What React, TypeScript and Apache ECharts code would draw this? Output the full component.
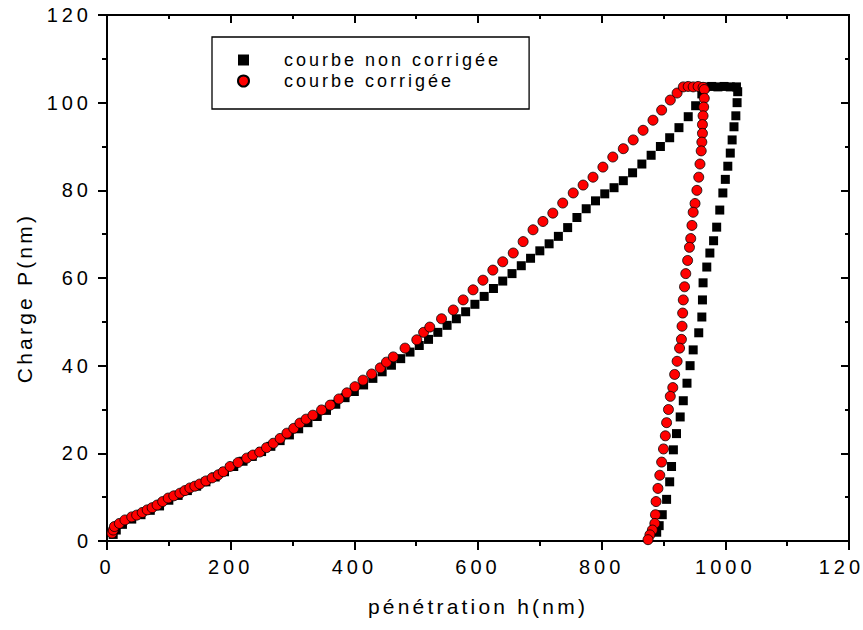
import React, { useEffect, useRef } from "react";
import * as echarts from "echarts";

// ---- Data (h in nm, P) ----
const seriesNames = ["courbe non corrigée", "courbe corrigée"];

const uncorrectedLoading: [number, number][] = [
  [10, 1.5], [15, 2.5], [25, 3.8], [40, 5.0], [55, 6.0], [70, 7.0], [85, 8.0], [100, 9.3],
  [115, 10.4], [130, 11.5], [145, 12.5], [160, 13.5], [175, 14.6], [190, 15.8], [205, 17.0],
  [220, 18.2], [235, 19.3], [250, 20.4], [265, 21.6], [280, 22.9], [295, 24.2], [310, 25.6],
  [325, 27.0], [340, 28.4], [355, 29.8], [370, 31.2], [385, 32.7], [400, 34.1], [415, 35.6],
  [430, 37.1], [445, 38.6], [460, 40.1], [475, 41.6], [490, 43.1], [505, 44.6], [520, 46.0],
  [535, 47.6], [550, 49.2], [565, 50.7], [580, 52.3], [595, 54.0], [610, 55.8], [625, 57.6],
  [640, 59.3], [655, 61.0], [670, 62.8], [685, 64.5], [700, 66.2], [715, 67.8], [730, 69.5],
  [745, 71.5], [760, 73.8], [775, 75.8], [790, 77.6], [805, 79.2], [820, 80.6], [835, 82.2],
  [850, 84.0], [865, 86.0], [880, 88.0], [895, 90.0], [910, 92.0], [925, 94.3], [940, 96.8],
  [952, 99.3], [962, 102.0], [968, 103.6], [978, 103.7], [988, 103.6], [998, 103.7],
  [1008, 103.6], [1018, 103.6],
];

const uncorrectedUnloading: [number, number][] = [
  [1020, 102.5], [1019, 100], [1017, 97], [1014, 94.5], [1011, 91.5], [1008, 88.5],
  [1004, 85.5], [1000, 82.5], [996, 79.4], [991, 75.5], [986, 71.6], [981, 68.5], [975, 65.7],
  [970, 62.5], [964, 58.9], [963, 55], [962, 51.1], [957, 47.5], [948, 43.6], [943, 40],
  [938, 36], [932, 32], [927, 28.3], [921, 24.5], [916, 20.8], [913, 17], [910, 13.5],
  [905, 9.5], [898, 6], [893, 3.5], [889, 2],
];

const correctedLoading: [number, number][] = [
  [8, 1.8], [10, 2.5], [12, 3.3], [20, 4.0], [29, 4.8], [40, 5.5], [48, 5.9], [57, 6.5],
  [65, 7.1], [73, 7.6], [81, 8.2], [90, 9.0], [99, 9.8], [108, 10.3], [118, 10.9], [126, 11.5],
  [134, 12.1], [142, 12.5], [150, 13.0], [160, 13.7], [170, 14.4], [180, 15.1], [188, 15.8],
  [199, 17.0], [212, 17.9], [226, 18.9], [236, 19.6], [247, 20.3], [258, 21.3], [269, 22.3],
  [280, 23.4], [291, 24.6], [302, 25.7], [312, 26.9], [322, 27.8], [333, 28.7], [347, 29.9],
  [361, 31.0], [375, 32.4], [388, 33.8], [401, 35.2], [414, 36.7], [428, 38.1], [442, 39.5],
  [452, 40.8], [463, 42.0], [482, 44.0], [501, 45.9], [512, 47.6], [522, 48.8], [541, 50.7],
  [560, 52.7], [576, 55.0], [592, 57.3], [608, 59.5], [624, 61.8], [640, 63.7], [657, 65.7],
  [673, 68.3], [689, 71.0], [705, 72.9], [721, 74.8], [737, 77.1], [754, 79.4], [770, 81.2],
  [786, 83.0], [802, 85.3], [818, 87.6], [835, 89.5], [851, 91.5], [867, 93.7], [883, 96.0],
  [897, 98.3], [911, 100.6], [922, 102.2], [932, 103.6], [940, 103.7], [948, 103.6],
  [956, 103.7], [964, 103.5],
];

const correctedUnloading: [number, number][] = [
  [966, 103], [966, 101], [965, 99], [964, 97], [963, 95], [963, 93], [962, 91], [961, 89],
  [959, 86], [957, 83], [954, 80], [951, 77], [948, 75], [946, 72], [944, 69], [942, 67],
  [939, 64], [936, 61], [934, 58], [932, 55], [931, 52], [930, 49], [929, 46], [926, 44],
  [922, 41], [918, 38], [915, 35], [911, 33], [908, 30], [905, 27], [903, 24], [900, 21],
  [897, 18], [894, 15], [891, 12], [888, 9], [887, 6], [886, 4], [882, 2.5], [878, 1.4],
  [875, 0.3],
];

const xMin = 0, xMax = 1200, xStep = 200;
const yMin = 0, yMax = 120, yStep = 20;
const xTitle = "pénétration h(nm)";
const yTitle = "Charge P(nm)";

const FONT = "'Liberation Sans', Arial, sans-serif";

export default function App() {
  const ref = useRef<HTMLDivElement>(null);

  useEffect(() => {
    document.body.style.margin = "0";
    if (!ref.current) return;
    const chart = echarts.init(ref.current, undefined, { renderer: "svg" });

    const mkLine = () => ({ show: true, onZero: false, lineStyle: { color: "#000", width: 2 } });
    const tickStyle = { color: "#000", width: 2 };
    const fmt = (v: number) => String(v);

    const option: any = {
      animation: false,
      backgroundColor: "#fff",
      grid: {
        left: 107, right: 14, top: 15, bottom: 89,
        containLabel: false, outerBoundsMode: "none",
        show: true, borderColor: "#000", borderWidth: 2, backgroundColor: "transparent",
      },
      legend: {
        left: 212, top: 37,
        orient: "vertical",
        backgroundColor: "#fff",
        borderColor: "#000", borderWidth: 1.3,
        padding: [14, 85, 19, 25],
        itemWidth: 11, itemHeight: 11, itemGap: 3,
        textStyle: { fontFamily: FONT, fontSize: 18, color: "#000", padding: [0, 0, 0, 30] },
        data: [
          { name: seriesNames[0], icon: "rect" },
          { name: seriesNames[1], icon: "circle" },
        ],
      },
      xAxis: [
        {
          type: "value", position: "bottom", min: xMin, max: xMax, interval: xStep,
          axisLine: mkLine(), splitLine: { show: false },
          axisTick: { show: true, inside: false, length: 9, lineStyle: tickStyle },
          minorTick: { show: true, splitNumber: 2, length: 5, lineStyle: tickStyle },
          axisLabel: { margin: 16, fontFamily: FONT, fontSize: 20, color: "#000", formatter: fmt },
          name: xTitle, nameLocation: "middle", nameGap: 55,
          nameTextStyle: { fontFamily: FONT, fontSize: 21, color: "#000" },
        },
        {
          type: "value", position: "top", min: xMin, max: xMax, interval: xStep,
          axisLine: mkLine(), splitLine: { show: false },
          axisTick: { show: true, inside: true, length: 8, lineStyle: tickStyle },
          minorTick: { show: true, splitNumber: 2, length: 4, lineStyle: tickStyle },
          axisLabel: { show: false },
        },
      ],
      yAxis: [
        {
          type: "value", position: "left", min: yMin, max: yMax, interval: yStep,
          axisLine: mkLine(), splitLine: { show: false },
          axisTick: { show: true, inside: false, length: 9, lineStyle: tickStyle },
          minorTick: { show: true, splitNumber: 2, length: 5, lineStyle: tickStyle },
          axisLabel: { margin: 15, fontFamily: FONT, fontSize: 20, color: "#000", formatter: fmt },
          name: yTitle, nameLocation: "middle", nameGap: 72, nameRotate: 90,
          nameTextStyle: { fontFamily: FONT, fontSize: 21, color: "#000", padding: [0, 40, 0, 0] },
        },
        {
          type: "value", position: "right", min: yMin, max: yMax, interval: yStep,
          axisLine: mkLine(), splitLine: { show: false },
          axisTick: { show: true, inside: true, length: 8, lineStyle: tickStyle },
          minorTick: { show: true, splitNumber: 2, length: 4, lineStyle: tickStyle },
          axisLabel: { show: false },
        },
      ],
      series: [
        {
          name: seriesNames[0], type: "scatter", xAxisIndex: 0, yAxisIndex: 0,
          symbol: "rect", symbolSize: 9,
          itemStyle: { color: "#000", opacity: 1 },
          data: [...uncorrectedLoading, ...uncorrectedUnloading],
        },
        {
          name: seriesNames[1], type: "scatter", xAxisIndex: 0, yAxisIndex: 0,
          symbol: "circle", symbolSize: 10,
          itemStyle: { color: "#ff0000", borderColor: "#000", borderWidth: 0.8, opacity: 1 },
          data: [...correctedLoading, ...correctedUnloading],
        },
      ],
    };
    chart.setOption(option);
    return () => chart.dispose();
  }, []);

  return (
    <>
      <style>{`
        #chart text[style*="20px"] { letter-spacing: 4px; }
        #chart text[style*="18px"] { letter-spacing: 3px; }
        #chart text[style*="21px"] { letter-spacing: 3.2px; }
      `}</style>
      <div
        id="chart"
        ref={ref}
        style={{ position: "absolute", left: 0, top: 0, width: 863, height: 630, background: "#fff" }}
      />
    </>
  );
}
